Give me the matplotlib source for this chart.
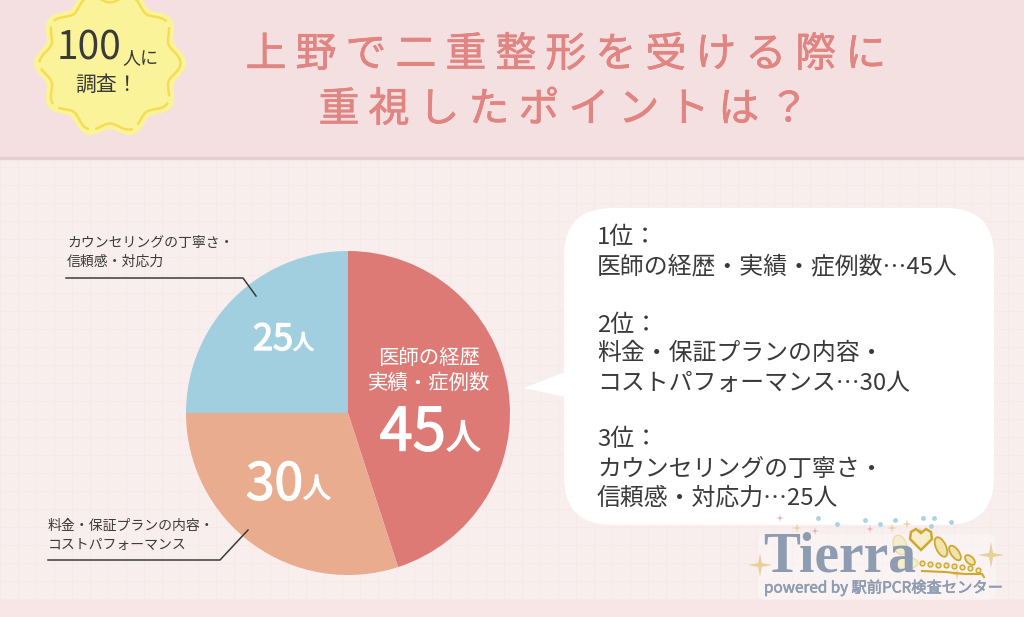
import numpy as np
import matplotlib
matplotlib.use("Agg")
import matplotlib.pyplot as plt
import matplotlib.patheffects as pe
from matplotlib.patches import FancyBboxPatch, Polygon, Ellipse, Rectangle

# ---------------------------------------------------------------------------
# Data
# ---------------------------------------------------------------------------

categories = ["医師の経歴・実績・症例数", "料金・保証プランの内容・コストパフォーマンス", "カウンセリングの丁寧さ・信頼感・対応力"]
values = [45, 30, 25]
pie_colors = ["#dd7a75", "#e9ac8e", "#a2cfdf"]

title_lines = ["上野で二重整形を受ける際に", "重視したポイントは？"]
ranking_lines = [
    "1位：", f"医師の経歴・実績・症例数…{values[0]}人",
    "2位：", "料金・保証プランの内容・", f"コストパフォーマンス…{values[1]}人",
    "3位：", "カウンセリングの丁寧さ・", f"信頼感・対応力…{values[2]}人",
]
ranking_y = [238, 267, 325, 354, 383, 440, 469, 498]

# ---------------------------------------------------------------------------
# Style
# ---------------------------------------------------------------------------

W, H = 1024, 617
DARK = "#3a3a3a"
TITLE = "#e08581"
LOGO = "#8d9cb0"
GOLD = "#cfa82f"
plt.rcParams["font.family"] = "Noto Sans CJK JP"


def Y(y):
    # reference pixels are counted from the top
    return H - y


fig = plt.figure(figsize=(W / 100, H / 100), dpi=100, facecolor="#f9eeee")
ax = fig.add_axes([0, 0, 1, 1])

# pie first, it resets the limits
ax.pie(values, colors=pie_colors, startangle=90, counterclock=False,
       center=(348, Y(413)), radius=162, wedgeprops={"zorder": 3})
ax.set_xlim(0, W)
ax.set_ylim(0, H)
ax.set_aspect("auto")
ax.axis("off")

# ---------------------------------------------------------------------------
# Background
# ---------------------------------------------------------------------------

ax.add_patch(Rectangle((0, 0), W, H, color="#f9eeee", zorder=0))
for gx in np.arange(0, W, 18):
    ax.plot([gx, gx], [0, H], color="#f8e9e9", lw=0.6, zorder=0.5)
for gy in np.arange(0, H, 18):
    ax.plot([0, W], [gy, gy], color="#f8e9e9", lw=0.6, zorder=0.5)
ax.add_patch(Rectangle((0, Y(157)), W, 157, color="#f5e0e1", zorder=1))
ax.add_patch(Rectangle((0, Y(158.5)), W, 2, color="#e8cfcf", zorder=1))
ax.add_patch(Rectangle((0, 0), W, 17, color="#f8e6e6", zorder=1))

# ---------------------------------------------------------------------------
# Badge
# ---------------------------------------------------------------------------

t = np.linspace(0, 2 * np.pi, 400)
bx, by = 110, 63
ax.fill(bx + (71 + 4.5 * np.cos(10 * t)) * np.cos(t),
        Y(by) + (70 + 4.5 * np.cos(10 * t)) * np.sin(t),
        color="#faf39a", zorder=2, clip_on=True)
ax.plot(bx + (66 + 4.5 * np.cos(10 * t)) * np.cos(t),
        Y(by) + (65 + 4.5 * np.cos(10 * t)) * np.sin(t),
        color="#f5dc55", lw=1.8, ls=(0, (16, 2.5)), zorder=2.1)
ax.text(121, Y(48), "100", fontsize=28, color=DARK, ha="right", va="center", zorder=4)
ax.text(122, Y(58), "人に", fontsize=13, color=DARK, ha="left", va="center", zorder=4)
ax.text(107, Y(85), "調査！", fontsize=15, color=DARK, ha="center", va="center", zorder=4)

# ---------------------------------------------------------------------------
# Title
# ---------------------------------------------------------------------------

# a plain space between the glyphs gives the wide tracking
for line, cx, cy in zip(title_lines, [566, 564], [55, 110]):
    ax.text(cx, Y(cy), " ".join(line), fontsize=29.4, color=TITLE,
            ha="center", va="center", zorder=4,
            path_effects=[pe.withStroke(linewidth=0.5, foreground=TITLE)])

# ---------------------------------------------------------------------------
# Pie labels
# ---------------------------------------------------------------------------

thick = [pe.withStroke(linewidth=1.0, foreground="white")]
ax.text(429, Y(358), "医師の経歴", fontsize=14.7, color="white", ha="center", va="center", zorder=4)
ax.text(429, Y(383), "実績・症例数", fontsize=14.7, color="white", ha="center", va="center", zorder=4)
for val, x, y, big, small in [(values[0], 446, 434, 43, 25),
                              (values[1], 303, 485, 37, 20),
                              (values[2], 293, 340, 26, 15)]:
    ax.text(x, Y(y), str(val), fontsize=big, color="white", ha="right", va="center",
            zorder=4, path_effects=thick)
    ax.text(x, Y(y + big * 0.12), "人", fontsize=small, color="white", ha="left", va="center",
            zorder=4, path_effects=thick)

# outer labels and leader lines
ax.text(67, Y(243), "カウンセリングの丁寧さ・", fontsize=10, color=DARK, va="center", zorder=4)
ax.text(67, Y(262), "信頼感・対応力", fontsize=10, color=DARK, va="center", zorder=4)
ax.plot([66, 243, 256], [Y(278), Y(278), Y(296)], color=DARK, lw=1.1, zorder=4)
ax.text(48, Y(526), "料金・保証プランの内容・", fontsize=10, color=DARK, va="center", zorder=4)
ax.text(48, Y(545), "コストパフォーマンス", fontsize=10, color=DARK, va="center", zorder=4)
ax.plot([48, 220, 248], [Y(560), Y(560), Y(530)], color=DARK, lw=1.1, zorder=4)

# ---------------------------------------------------------------------------
# Ranking bubble
# ---------------------------------------------------------------------------

ax.add_patch(FancyBboxPatch((564 + 48, Y(525) + 48), 430 - 96, 317 - 96,
                            boxstyle="round,pad=48,rounding_size=48",
                            fc="white", ec="none", zorder=2))
ax.add_patch(Polygon([(524, Y(388)), (570, Y(370)), (570, Y(398))],
                     closed=True, fc="white", ec="none", zorder=2))
for line, y in zip(ranking_lines, ranking_y):
    ax.text(597, Y(y), line, fontsize=17.2, color=DARK, va="center", zorder=4)

# ---------------------------------------------------------------------------
# Logo
# ---------------------------------------------------------------------------

ax.add_patch(FancyBboxPatch((762, Y(596)), 230, 58, boxstyle="round,pad=4,rounding_size=8",
                            fc="white", ec="none", alpha=0.3, zorder=1.5))

# pale lace left of the crown, behind the wordmark
for cx, cy, w, h, ang in [(900, 545, 13, 20, 20), (905, 563, 26, 12, 0)]:
    ax.add_patch(Ellipse((cx, Y(cy)), w, h, angle=ang, fc="#f6eecb", ec="#e9dcae", lw=1, zorder=3.2))

ax.text(763, Y(557), "Tierra", fontsize=40, color=LOGO, family="Liberation Serif",
        fontweight="bold", va="center", zorder=4)
ax.text(764, Y(588), "powered by 駅前PCR検査センター", fontsize=11, color=LOGO,
        va="center", zorder=4, path_effects=[pe.withStroke(linewidth=0.4, foreground=LOGO)])

# crown
heart = [(0, -11), (-11, 0), (-10, 7), (-5, 10), (0, 6), (5, 10), (10, 7), (11, 0)]
ax.add_patch(Polygon([(921 + a, Y(539) + b) for a, b in heart], closed=True,
                     fc="#f6eecb", ec=GOLD, lw=1.8, zorder=4.5))
for cx, cy, w, h, ang in [(941, 547, 10, 21, 25), (955, 553, 8, 17, 35), (970, 560, 7, 12, 45)]:
    ax.add_patch(Ellipse((cx, Y(cy)), w, h, angle=ang, fc="#f1e3ae", ec=GOLD, lw=1.3, zorder=4.5))
ax.scatter([922, 930, 938, 946, 954, 962, 970, 978],
           [Y(v) for v in [563, 564, 565, 565, 566, 567, 568, 570]],
           s=12, fc="#f1e3ae", ec=GOLD, lw=1, zorder=4.6)
ax.plot([922, 945, 965, 982, 984], [Y(571), Y(572), Y(574), Y(574), Y(577)],
        color=GOLD, lw=1.5, zorder=4.6)

# sparkles
star = [(0, 1), (0.16, 0.16), (1, 0), (0.16, -0.16), (0, -1), (-0.16, -0.16), (-1, 0), (-0.16, 0.16)]
for sx, sy, size, col in [(760, 565, 12, "#e6d199"), (991, 555, 13, "#e6d199"),
                          (797, 528, 5, "#e6d199"), (892, 528, 5, "#e6d199"),
                          (907, 524, 5, "#e6d199"), (957, 574, 6, "#e6d199"),
                          (780, 518, 4, "#dca8c0"), (815, 531, 4, "#dca8c0"),
                          (870, 529, 4, "#dca8c0"), (920, 531, 4, "#dca8c0")]:
    ax.add_patch(Polygon([(sx + size * a, Y(sy) + size * b) for a, b in star],
                         closed=True, fc=col, ec="none", zorder=3))
ax.scatter([818, 837, 865, 880, 895, 923, 934, 951, 931],
           [Y(v) for v in [518, 524, 520, 524, 520, 518, 518, 522, 526]],
           s=6, color="#a9d2e6", zorder=3)

fig.savefig("out.png", dpi=100, facecolor=fig.get_facecolor())
